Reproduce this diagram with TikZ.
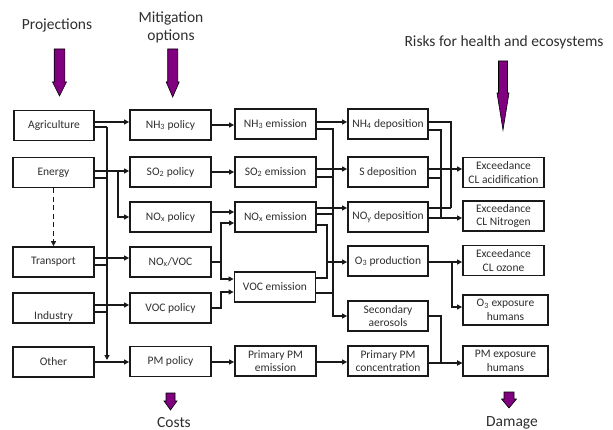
\documentclass[tikz,border=0pt]{standalone}
\usepackage{fontspec}
\setmainfont{Carlito}
\usetikzlibrary{arrows.meta,calc}
\definecolor{purp}{HTML}{800080}
\definecolor{txt}{HTML}{2E2E2E}
\newcommand\myfatarrow[6]{% cx, shaft half width, head half width, ytop, yhead, ytip
  \filldraw[fill=purp, draw=black, line width=0.6pt, line join=miter]
    ({#1-#2},#4) -- ({#1+#2},#4) -- ({#1+#2},#5) -- ({#1+#3},#5) -- (#1,#6)
    -- ({#1-#3},#5) -- ({#1-#2},#5) -- cycle;}
\begin{document}
\begin{tikzpicture}[x=1pt,y=-1pt,
  box/.style={draw=black!90, line width=1.8pt, minimum width=81pt, minimum height=30pt,
    inner sep=1pt, align=center, text=txt, font=\fontsize{11.5}{13.5}\selectfont},
  toptext/.style={text=txt, font=\fontsize{15.5}{18}\selectfont, inner sep=0pt, anchor=base},
  conn/.style={line width=1.4pt, draw=black!90},
  arr/.style={conn, -{Triangle[length=5pt,width=5pt]}}]
\useasboundingbox (0,0) rectangle (613,430);

% column 1: sectors
\node[box, minimum width=80pt] (agri) at (54,125.5) {Agriculture};
\node[box, minimum width=81pt] (energy) at (53.5,172.5) {Energy};
\node[box, minimum width=81pt] (transport) at (53.5,262) {Transport};
\node[box, minimum width=81pt, text height=26pt, text depth=2.5pt, inner ysep=0pt] (industry) at (53.5,308) {Industry};
\node[box, minimum width=81pt] (other) at (53.5,362) {Other};

% column 2: policies
\node[box] (nh3p) at (170.5,125) {NH\textsubscript{3} policy};
\node[box] (so2p) at (170.5,172) {SO\textsubscript{2} policy};
\node[box] (noxp) at (170.5,217) {NO\textsubscript{x} policy};
\node[box] (noxvoc) at (170.5,262) {NO\textsubscript{x}/VOC};
\node[box] (vocp) at (170.5,308) {VOC policy};
\node[box] (pmp) at (170.5,361.5) {PM policy};

% column 3: emissions
\node[box] (nh3e) at (275.5,124) {NH\textsubscript{3} emission};
\node[box] (so2e) at (275.5,172) {SO\textsubscript{2} emission};
\node[box] (noxe) at (275.5,217) {NO\textsubscript{x} emission};
\node[box] (voce) at (275,287) {VOC emission};
\node[box] (ppme) at (275.5,361) {Primary PM\\emission};

% column 4
\node[box, minimum width=80pt] (nh4d) at (388,124) {NH\textsubscript{4} deposition};
\node[box, minimum width=80pt] (sd) at (388,172) {S deposition};
\node[box, minimum width=80pt] (noyd) at (388,217) {NO\textsubscript{y} deposition};
\node[box, minimum width=80pt] (o3p) at (388,261) {O\textsubscript{3} production};
\node[box, minimum width=80pt] (seca) at (388,316) {Secondary\\aerosols};
\node[box, minimum width=80pt] (ppmc) at (388,361) {Primary PM\\concentration};

% column 5
\node[box] (exacid) at (503.5,172.5) {Exceedance\\CL acidification};
\node[box] (exn) at (503.5,216) {Exceedance\\CL Nitrogen};
\node[box] (exo3) at (503.5,260.5) {Exceedance\\CL ozone};
\node[box, minimum width=85pt] (o3exp) at (505.5,310) {O\textsubscript{3} exposure\\humans};
\node[box, minimum width=85pt] (pmexp) at (505.5,361) {PM exposure\\humans};

% headings
\node[toptext] (proj) at (57,30) {Projections};
\node[toptext] (mit1) at (171,23) {Mitigation};
\node[toptext] (mit2) at (171,41) {options};
\node[toptext] (risk) at (504,46.5) {Risks for health and ecosystems};
\node[toptext] (costs) at (174,427) {Costs};
\node[toptext] (damage) at (512,426) {Damage};

% purple arrows
\myfatarrow{59.5}{5.3}{7}{49}{82}{96}
\myfatarrow{172.7}{5}{6.5}{49}{82}{97}
\myfatarrow{503}{4.5}{6}{61}{93}{130}
\myfatarrow{170.5}{4.5}{6.5}{393}{401}{410}
\myfatarrow{509}{5}{7.5}{392}{399}{408}

% sectors -> policies
\coordinate (busT) at (107,127);
\coordinate (busB) at (107,360);
\coordinate (eb) at (118,171);
\draw[arr] (agri.east |- 0,122) -- (nh3p.west |- 0,122);
\draw[conn] (agri.east |- busT) -- (busT);
\draw[arr] (busT) -- (busB);
\draw[arr] (energy.east |- eb) -- (so2p.west |- eb);
\draw[arr] (eb) |- (noxp.west |- 0,217);
\draw[conn] (energy.east |- 0,178) -- (busT |- 0,178);
\draw[arr, dash pattern=on 5pt off 3.5pt] (energy.south) -- (transport.north);
\draw[arr] (transport.east |- 0,258) -- (noxvoc.west |- 0,258);
\draw[conn] (transport.east |- 0,265) -- (busT |- 0,265);
\draw[arr] (industry.east |- 0,305) -- (vocp.west |- 0,305);
\draw[conn] (industry.east |- 0,312) -- (busT |- 0,312);
\draw[arr] (other.east |- 0,362) -- (pmp.west |- 0,362);

% policies -> emissions
\coordinate (nv) at (221,262);
\draw[arr] (nh3p.east |- 0,125) -- (nh3e.west |- 0,125);
\draw[arr] (so2p.east |- 0,172) -- (so2e.west |- 0,172);
\draw[arr] (noxp.east |- 0,212) -- (noxe.west |- 0,212);
\draw[conn] (noxvoc.east |- nv) -- (nv);
\draw[arr] (nv) |- (noxe.west |- 0,223);
\draw[arr] (nv) |- (voce.west |- 0,279);
\draw[arr] (vocp.east |- 0,308) -| (221,292) -- (voce.west |- 0,292);
\draw[arr] (pmp.east |- 0,362) -- (ppme.west |- 0,362);

% emissions -> column 4
\draw[arr] (nh3e.east |- 0,122) -- (nh4d.west |- 0,122);
\draw[arr] (nh3e.east |- 0,129) -| (333,316) -- (seca.west |- 0,316);
\draw[arr] (so2e.east |- 0,169) -- (sd.west |- 0,169);
\draw[conn] (so2e.east |- 0,177) -- (333,177);
\draw[arr] (noxe.east |- 0,208) -- (noyd.west |- 0,208);
\draw[conn] (noxe.east |- 0,214) -- (333,214);
\draw[arr] (noxe.east |- 0,225) -| (327,262) -- (o3p.west |- 0,262);
\draw[conn] (voce.east |- 0,278) -| (327,262);
\draw[conn] (voce.east |- 0,293) -- (333,293);
\draw[arr] (ppme.east |- 0,362) -- (ppmc.west |- 0,362);

% column 4 -> column 5
\draw[conn] (nh4d.east |- 0,122) -| (451,208);
\draw[conn] (nh4d.east |- 0,130) -| (441,218);
\draw[arr] (sd.east |- 0,169) -- (exacid.west |- 0,169);
\draw[conn] (sd.east |- 0,178) -- (441,178);
\draw[conn] (noyd.east |- 0,208) -- (451,208);
\draw[arr] (noyd.east |- 0,218) -- (exn.west |- 0,218);
\draw[arr] (o3p.east |- 0,262) -- (exo3.west |- 0,262);
\draw[arr] (452,262) |- (o3exp.west |- 0,307);
\draw[arr] (seca.east |- 0,316) -| (441,363) -- (pmexp.west |- 0,363);
\draw[arr] (ppmc.east |- 0,363) -- (pmexp.west |- 0,363);
\end{tikzpicture}
\end{document}
